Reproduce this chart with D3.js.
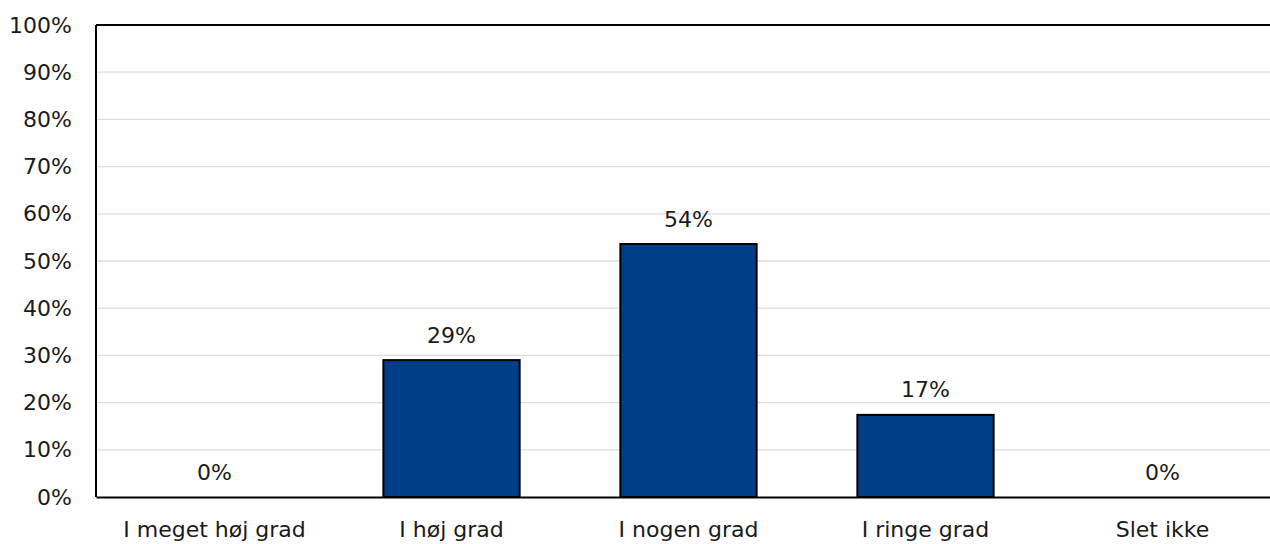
<!DOCTYPE html>
<html>
<head>
<meta charset="utf-8">
<script src="https://cdn.jsdelivr.net/npm/d3@7"></script>
<style>
  html, body { margin: 0; padding: 0; background: #fff; overflow: hidden; }
  text { font-family: "DejaVu Sans", sans-serif; fill: #1a1a1a; }
</style>
</head>
<body>
<svg id="chart"></svg>
<script>
const categories = ["I meget høj grad", "I høj grad", "I nogen grad", "I ringe grad", "Slet ikke"];
const values = [0, 29.0, 53.6, 17.4, 0];
const valueLabels = ["0%", "29%", "54%", "17%", "0%"];
const yTicks = [0, 10, 20, 30, 40, 50, 60, 70, 80, 90, 100];

const w = 1270;
const h = 544;
const margin = { top: 25, left: 96, bottom: 47 };
const plotRight = 1281; // plot runs slightly past the window edge
const fontSize = "22px";

const svg = d3.select("#chart").attr("width", w).attr("height", h);

const x = d3.scaleBand()
  .domain(categories)
  .range([margin.left, plotRight])
  .paddingInner(0.425)
  .paddingOuter(0.2125);

const y = d3.scaleLinear()
  .domain([0, 100])
  .range([h - margin.bottom, margin.top]);

// gridlines
svg.append("g")
  .selectAll("line")
  .data(yTicks.filter(d => d > 0 && d < 100))
  .enter()
  .append("line")
  .attr("x1", margin.left)
  .attr("x2", plotRight)
  .attr("y1", d => y(d))
  .attr("y2", d => y(d))
  .attr("stroke", "#dcdcdc")
  .attr("stroke-width", 1.3);

// y axis labels
const yAxis = d3.axisLeft(y)
  .tickValues(yTicks)
  .tickFormat(d => d + "%")
  .tickSize(0)
  .tickPadding(24);

svg.append("g")
  .attr("transform", `translate(${margin.left},0)`)
  .call(yAxis)
  .call(g => g.select(".domain").remove())
  .call(g => g.selectAll("text").style("font-size", fontSize).attr("fill", "#1a1a1a"));

// bars
svg.append("g")
  .selectAll("rect")
  .data(values.map((v, i) => ({ cat: categories[i], v })).filter(d => d.v > 0))
  .enter()
  .append("rect")
  .attr("x", d => x(d.cat))
  .attr("y", d => y(d.v))
  .attr("width", x.bandwidth())
  .attr("height", d => y(0) - y(d.v))
  .attr("fill", "#003e87")
  .attr("stroke", "#000")
  .attr("stroke-width", 2);

// value labels
svg.append("g")
  .selectAll("text")
  .data(values)
  .enter()
  .append("text")
  .attr("x", (d, i) => x(categories[i]) + x.bandwidth() / 2)
  .attr("y", d => y(d) - 25)
  .attr("text-anchor", "middle")
  .attr("dominant-baseline", "central")
  .style("font-size", fontSize)
  .text((d, i) => valueLabels[i]);

// frame: left and top, bottom axis
svg.append("line")
  .attr("x1", margin.left).attr("x2", margin.left)
  .attr("y1", y(100)).attr("y2", y(0))
  .attr("stroke", "#000").attr("stroke-width", 2);
svg.append("line")
  .attr("x1", margin.left).attr("x2", plotRight)
  .attr("y1", y(100)).attr("y2", y(100))
  .attr("stroke", "#000").attr("stroke-width", 2);

const xAxis = d3.axisBottom(x).tickSize(0).tickPadding(24);
svg.append("g")
  .attr("transform", `translate(0,${y(0)})`)
  .call(xAxis)
  .call(g => g.select(".domain").attr("stroke", "#000").attr("stroke-width", 2))
  .call(g => g.selectAll("text").style("font-size", fontSize).attr("fill", "#1a1a1a"));
</script>
</body>
</html>
